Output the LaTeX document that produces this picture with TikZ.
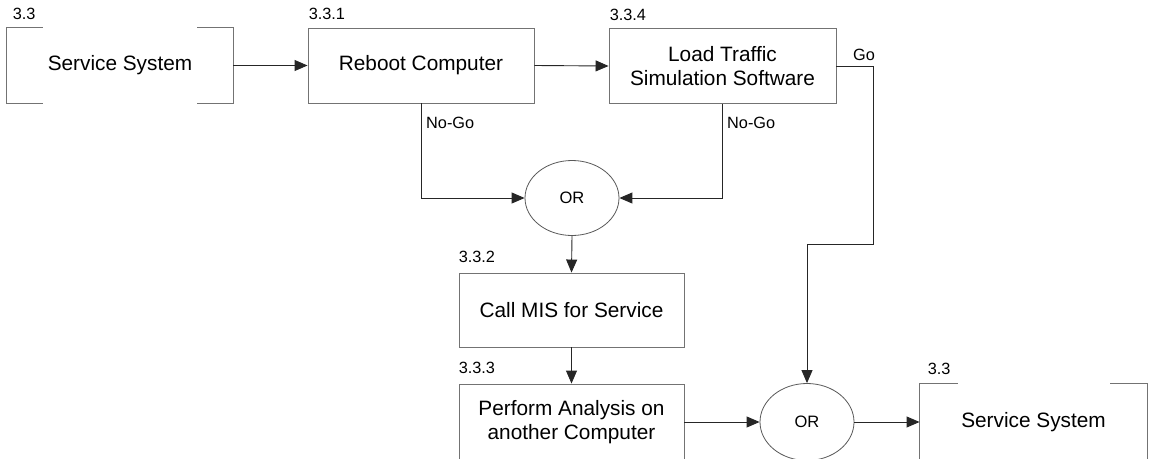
\documentclass[tikz,border=0pt]{standalone}
\usepackage{fontspec}
\setmainfont{Liberation Sans}
\usetikzlibrary{arrows.meta,shapes.geometric}

\begin{document}
\begin{tikzpicture}[x=1pt,y=-1pt,
  box/.style={draw=black!55, line width=0.9pt, minimum width=226pt, minimum height=75pt,
    inner sep=0pt, align=center, font=\fontsize{20.8}{24}\selectfont},
  brk/.style={box, draw=none},
  brkline/.style={draw=black!55, line width=0.9pt},
  gate/.style={ellipse, draw=black!65, line width=0.8pt, minimum width=94pt, minimum height=75pt,
    inner sep=0pt, font=\fontsize{16.5}{18}\selectfont},
  num/.style={anchor=base west, inner sep=0pt, font=\fontsize{16.3}{18}\selectfont},
  arr/.style={draw=black!85, line width=0.9pt, -{Triangle[length=13pt,width=11pt]}},
]
\useasboundingbox (0,0) rectangle (1149,458);

% process boxes
\node[brk] (svc1) at (120,65.5) {Service System};
\node[box] (reboot) at (421,65.5) {Reboot Computer};
\node[box, minimum width=227pt] (load) at (722.5,66) {Load Traffic\\Simulation Software};
\node[gate] (or1) at (572,198) {OR};
\node[box, minimum width=225pt, minimum height=74pt] (mis) at (571.5,310) {Call MIS for Service};
\node[box, minimum width=225pt, minimum height=76pt] (perf) at (571.5,422) {Perform Analysis on\\another Computer};
\node[gate, minimum height=77pt] (or2) at (807,422) {OR};
\node[brk, minimum width=227pt, minimum height=76pt] (svc2) at (1033.5,422) {Service System};

% reference brackets
\draw[brkline] ([xshift=36pt]svc1.north west) -- (svc1.north west) -- (svc1.south west) -- ([xshift=36pt]svc1.south west);
\draw[brkline] ([xshift=-36pt]svc1.north east) -- (svc1.north east) -- (svc1.south east) -- ([xshift=-36pt]svc1.south east);
\draw[brkline] ([xshift=38pt]svc2.north west) -- (svc2.north west) -- (svc2.south west) -- ([xshift=38pt]svc2.south west);
\draw[brkline] ([xshift=-37pt]svc2.north east) -- (svc2.north east) -- (svc2.south east) -- ([xshift=-37pt]svc2.south east);

% numbers
\node[num] (n0) at ([xshift=6pt,yshift=8pt]svc1.north west) {3.3};
\node[num] (n1) at ([xshift=1pt,yshift=8pt]reboot.north west) {3.3.1};
\node[num] (n4) at ([xshift=1pt,yshift=8pt]load.north west) {3.3.4};
\node[num] (n2) at ([xshift=0pt,yshift=10pt]mis.north west) {3.3.2};
\node[num] (n3) at ([xshift=0pt,yshift=10pt]perf.north west) {3.3.3};
\node[num] (n5) at ([xshift=8pt,yshift=9pt]svc2.north west) {3.3};

% branch labels
\node[num] (ng1) at (426,128) {No-Go};
\node[num] (ng2) at (727,128) {No-Go};
\node[num] (go) at (853,60) {Go};

% connectors
\coordinate (goA) at (873,244);
\draw[arr] (svc1.east) -- (reboot.west);
\draw[arr] (reboot.east) -- (load.west);
\draw[arr] (reboot.south) |- (or1.west);
\draw[arr] (load.south) |- (or1.east);
\draw[arr] (or1.south) -- (mis.north);
\draw[arr] (mis.south) -- (perf.north);
\draw[arr] (perf.east) -- (or2.west);
\draw[arr] (or2.east) -- (svc2.west);
\draw[arr] (load.east) -| (goA) -| (or2.north);
\end{tikzpicture}
\end{document}
